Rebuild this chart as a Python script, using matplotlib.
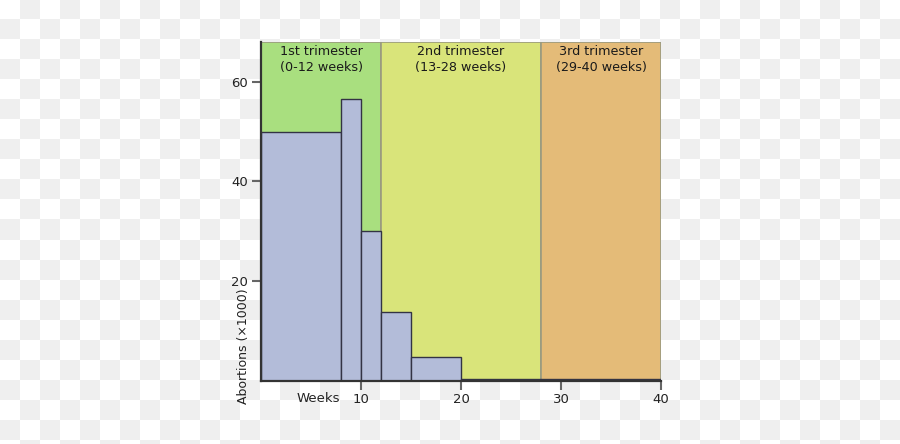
import numpy as np
import matplotlib
matplotlib.use("Agg")
import matplotlib.pyplot as plt

# Data
bin_edges = [0, 8, 10, 12, 15, 20, 40]
abortions = [50, 56.5, 30, 13.8, 4.8, 0.4]
trimester_bounds = [(0, 12), (12, 28), (28, 40)]
trimester_labels = ["1st trimester\n(0-12 weeks)", "2nd trimester\n(13-28 weeks)", "3rd trimester\n(29-40 weeks)"]
trimester_colors = ["#a9df7f", "#d9e47a", "#e4bb78"]
x_ticks = [10, 20, 30, 40]
y_ticks = [20, 40, 60]

W, H = 900, 444
fig = plt.figure(figsize=(W / 100, H / 100), dpi=100)

# checkerboard background
bg = fig.add_axes([0, 0, 1, 1], zorder=-10)
ncols, nrows = W // 20 + 1, H // 20 + 1
rr, cc = np.mgrid[0:nrows, 0:ncols]
checker = ((rr + cc) % 2).astype(float)
bg.imshow(checker, cmap=matplotlib.colors.ListedColormap(["#ffffff", "#efefef"]),
          extent=(0, ncols * 20, nrows * 20, 0), interpolation="nearest", aspect="auto")
bg.set_xlim(0, W)
bg.set_ylim(H, 0)
bg.axis("off")

ax = fig.add_axes([261 / W, 1 - 381 / H, 400 / W, (381 - 41.7) / H])
ax.set_facecolor("none")
ax.set_xlim(0, 40)
ax.set_ylim(0, 68)

for (a, b), lab, col in zip(trimester_bounds, trimester_labels, trimester_colors):
    ax.axvspan(a, b, ymin=0, ymax=1, facecolor=col, edgecolor="#9a9a80", linewidth=1.2, zorder=0)
    ax.text((a + b) / 2, 67.4, lab, ha="center", va="top", fontsize=9.2, color="#1a1a1a",
            linespacing=1.3, zorder=3)

widths = np.diff(bin_edges)
ax.bar(bin_edges[:-1], abortions, width=widths, align="edge", color="#b3bcd9",
       edgecolor="#333344", linewidth=1.0, zorder=2)

for s in ["top", "right"]:
    ax.spines[s].set_visible(False)
for s in ["left", "bottom"]:
    ax.spines[s].set_color("#333333")
    ax.spines[s].set_linewidth(1.6)
    ax.spines[s].set_zorder(4)

ax.set_xticks(x_ticks)
ax.set_yticks(y_ticks)
ax.tick_params(axis="both", length=6.5, width=1.5, color="#666666", labelsize=9.5,
               labelcolor="#222222", pad=2)
ax.tick_params(axis="y", pad=3)

ax.text(3.6, -2.2, "Weeks", ha="left", va="top", fontsize=9.5, color="#222222")
fig.text(243 / W, 1 - 404 / H, "Abortions (×1000)", rotation=90, ha="center", va="bottom",
         fontsize=9.0, color="#222222")

fig.savefig("out.png", dpi=100)
